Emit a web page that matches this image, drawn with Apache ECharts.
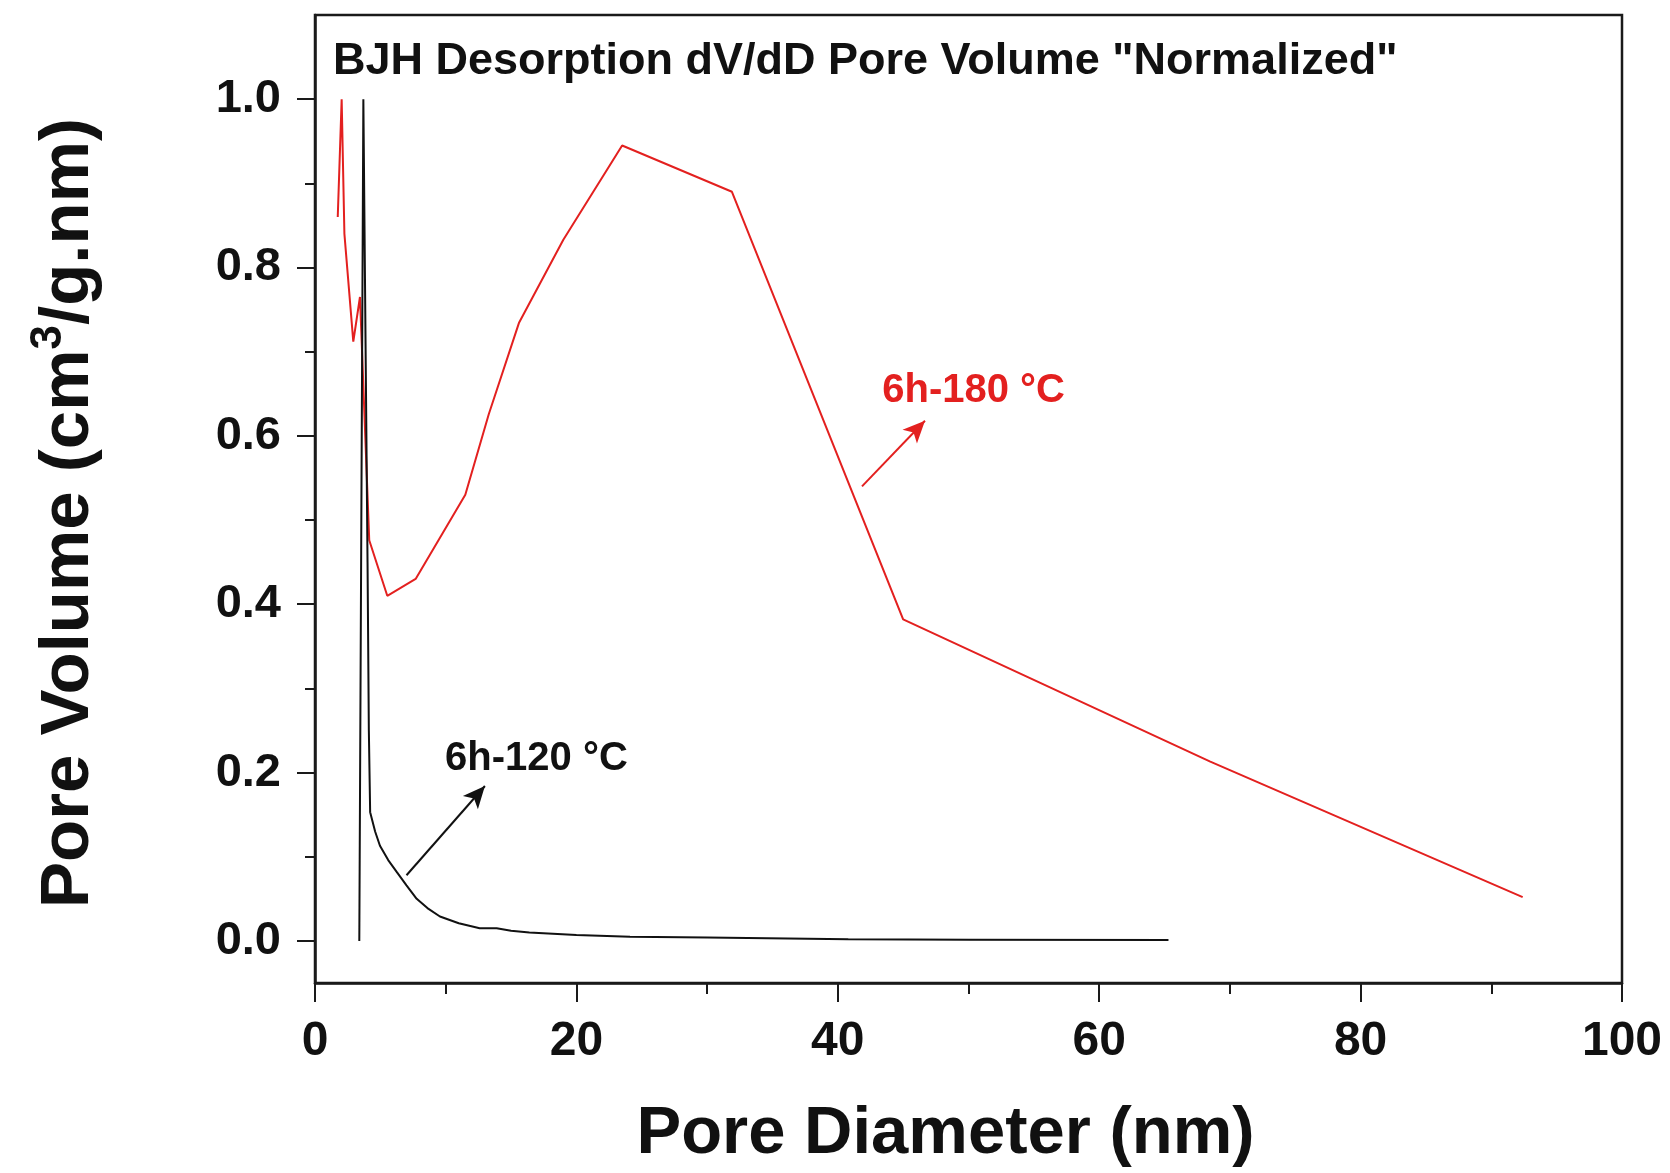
<!DOCTYPE html>
<html>
<head>
<meta charset="utf-8">
<script src="https://cdn.jsdelivr.net/npm/echarts@6/dist/echarts.min.js"></script>
<style>
  html, body { margin: 0; padding: 0; background: #fff; }
  #chart { width: 1670px; height: 1173px; }
</style>
</head>
<body>
<div id="chart"></div>
<script>
// BJH desorption dV/dD pore-size distributions, each normalised to its maximum.
// Pairs are [pore diameter (nm), normalised pore volume].
const sample120 = [
  [3.39, 0.0], [3.70, 1.0], [4.02, 0.45], [4.12, 0.25], [4.22, 0.153],
  [4.60, 0.130], [4.97, 0.113], [5.60, 0.096], [6.25, 0.082], [7.00, 0.066],
  [7.78, 0.050], [8.60, 0.039], [9.56, 0.029], [11.0, 0.021], [12.6, 0.015],
  [13.9, 0.015], [15.0, 0.012], [16.4, 0.010], [20.0, 0.007], [24.1, 0.005],
  [30.0, 0.004], [40.8, 0.002], [50.0, 0.0015], [65.3, 0.001]
];
const sample180 = [
  [1.74, 0.86], [2.04, 1.0], [2.25, 0.84], [2.93, 0.712], [3.44, 0.765],
  [4.15, 0.476], [5.53, 0.410], [7.70, 0.430], [11.5, 0.530], [13.3, 0.626],
  [15.6, 0.734], [19.0, 0.833], [23.5, 0.945], [31.9, 0.890], [45.0, 0.382],
  [68.5, 0.213], [92.4, 0.052]
];

// Series names and where their callouts sit (data space).
const seriesNames = ['6h-120 °C', '6h-180 °C'];
const labelAnchors = [[9.95, 0.216], [43.4, 0.653]];
const arrowTails = [[7.0, 0.078], [41.85, 0.540]];
const arrowHeads = [[13.0, 0.184], [46.67, 0.618]];

// Axis ticks.
const yMajorTicks = [0, 0.2, 0.4, 0.6, 0.8, 1.0];
const yMinorTicks = [0.1, 0.3, 0.5, 0.7, 0.9];

const FONT = '"Liberation Sans", Arial, Helvetica, sans-serif';
const INK = '#111111';
const RED = '#e3201f';
const AXIS = '#1a1a1a';

const chart = echarts.init(document.getElementById('chart'), null, { renderer: 'canvas' });

function callout(idx, color) {
  return {
    type: 'scatter',
    data: [labelAnchors[idx]],
    symbolSize: 0,
    silent: true,
    z: 5,
    itemStyle: { opacity: 1 },
    label: {
      show: true,
      position: 'right',
      distance: 0,
      formatter: seriesNames[idx],
      color: color,
      opacity: 1,
      fontFamily: FONT,
      fontWeight: 'bold',
      fontSize: 40
    },
    markLine: {
      silent: true,
      symbol: ['none', 'arrow'],
      symbolSize: [15, 22],
      label: { show: false },
      lineStyle: { color: color, width: 2, type: 'solid', opacity: 1 },
      data: [[{ coord: arrowTails[idx] }, { coord: arrowHeads[idx] }]]
    }
  };
}

chart.setOption({
  animation: false,
  backgroundColor: '#ffffff',
  grid: {
    left: 315, right: 48, top: 15, bottom: 187,
    show: true, borderColor: AXIS, borderWidth: 2.5, backgroundColor: 'transparent'
  },
  graphic: [{
    type: 'text',
    left: 333, top: 39,
    style: {
      text: 'BJH Desorption dV/dD Pore Volume "Normalized"',
      fontFamily: FONT, fontWeight: 'bold', fontSize: 45, fill: INK
    }
  }],
  xAxis: {
    type: 'value', min: 0, max: 100, interval: 20,
    name: 'Pore Diameter (nm)', nameLocation: 'middle', nameGap: 118,
    nameTextStyle: { fontFamily: FONT, fontWeight: 'bold', fontSize: 67, color: INK, padding: [0, 46, 0, 0] },
    axisLine: { onZero: false, lineStyle: { color: AXIS, width: 2.5 } },
    axisTick: { inside: false, length: 19, lineStyle: { color: AXIS, width: 2 } },
    minorTick: { show: true, splitNumber: 2, length: 11, lineStyle: { color: AXIS, width: 2 } },
    axisLabel: { fontFamily: FONT, fontWeight: 'bold', fontSize: 48, color: INK, margin: 35 },
    splitLine: { show: false }
  },
  yAxis: [{
    type: 'value', min: -0.05, max: 1.1,
    name: '{m|Pore Volume (cm}{s|3}{m|/g.nm)}',
    nameLocation: 'middle', nameRotate: 90, nameGap: 204,
    nameTextStyle: {
      padding: [0, 28, 0, 0],
      rich: {
        m: { fontFamily: FONT, fontWeight: 'bold', fontSize: 69, color: INK, lineHeight: 84 },
        s: { fontFamily: FONT, fontWeight: 'bold', fontSize: 44, color: INK, verticalAlign: 'top', lineHeight: 84 }
      }
    },
    axisLine: { onZero: false, lineStyle: { color: AXIS, width: 2.5 } },
    axisTick: { inside: false, length: 18, customValues: yMajorTicks, lineStyle: { color: AXIS, width: 2 } },
    axisLabel: {
      customValues: yMajorTicks,
      formatter: v => v.toFixed(1),
      fontFamily: FONT, fontWeight: 'bold', fontSize: 47, color: INK, margin: 34
    },
    splitLine: { show: false }
  }, {
    type: 'value', min: -0.05, max: 1.1, position: 'left',
    axisLine: { show: false, onZero: false },
    axisTick: { inside: false, length: 10, customValues: yMinorTicks, lineStyle: { color: AXIS, width: 2 } },
    axisLabel: { show: false },
    splitLine: { show: false }
  }],
  series: [{
    name: seriesNames[0],
    type: 'line',
    data: sample120,
    showSymbol: false,
    lineStyle: { color: INK, width: 2 },
    z: 3
  }, {
    name: seriesNames[1],
    type: 'line',
    data: sample180,
    showSymbol: false,
    lineStyle: { color: RED, width: 2 },
    z: 2
  },
  callout(0, INK),
  callout(1, RED)
  ]
});
</script>
</body>
</html>
